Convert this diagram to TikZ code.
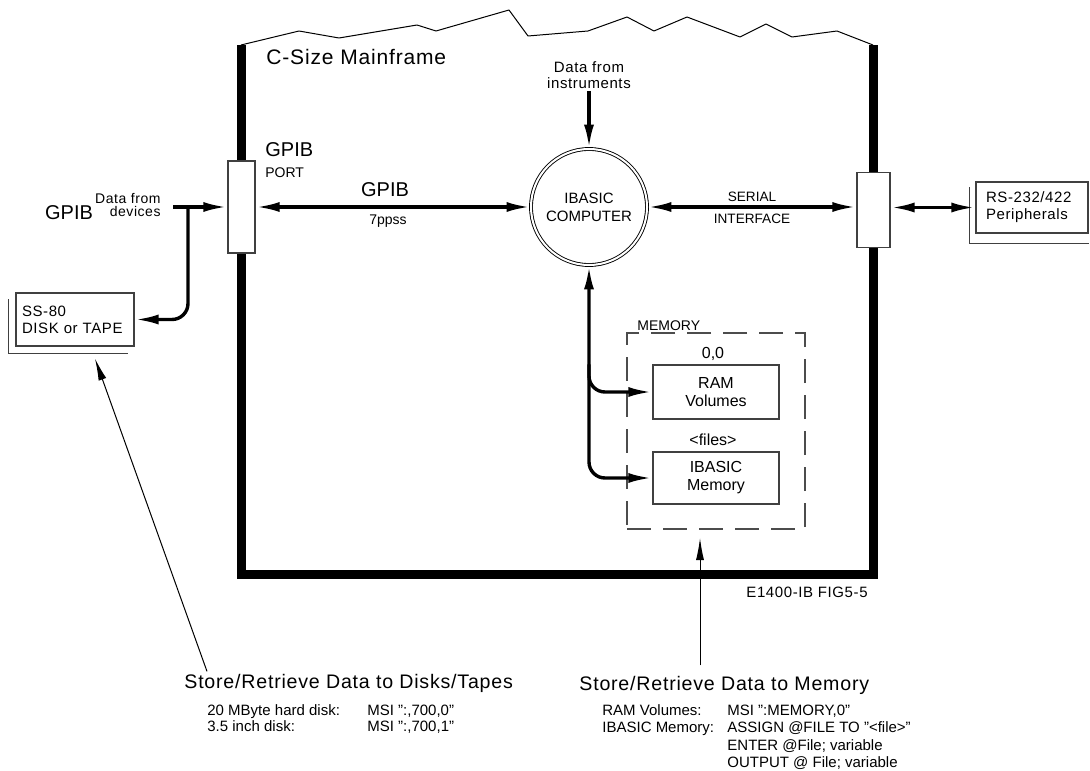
\documentclass[tikz,border=0pt]{standalone}
\usepackage{fontspec}
\setmainfont{Liberation Sans}
\newfontfamily\cadfont[LetterSpace=4]{Liberation Sans}
\usetikzlibrary{positioning, arrows.meta}
\tikzset{
  wall/.style={line width=4.5pt},
  rim/.style={line width=0.5pt, line join=round},
  port/.style={draw=black!75, line width=0.6pt, fill=white, inner sep=0pt},
  device/.style={draw=black!75, line width=0.6pt, fill=white, align=left, font=\cadfont\fontsize{7.5}{8.5}\selectfont, inner xsep=5pt},
  stack/.style={draw=black!75, line width=0.6pt},
  membox/.style={draw=black!75, line width=0.7pt, fill=white, align=center, font=\fontsize{8}{9}\selectfont, minimum width=63pt},
  memframe/.style={draw=black!70, line width=1pt, dash pattern=on 12pt off 6pt, minimum width=89pt, minimum height=98pt},
  computer/.style={circle, draw, double, double distance=1pt, line width=0.45pt, minimum size=58pt, align=center, font=\fontsize{7.5}{9}\selectfont},
  bus/.style={line width=1.7pt, -{Latex[length=12pt,width=5pt]}},
  busboth/.style={line width=1.7pt, {Latex[length=12pt,width=5pt]}-{Latex[length=12pt,width=5pt]}},
  pointer/.style={line width=0.5pt, -{Latex[length=11pt,width=4pt]}},
  cadsmall/.style={font=\cadfont\fontsize{7.5}{8}\selectfont, inner sep=1pt},
  cadtitle/.style={font=\cadfont\fontsize{9.8}{12}\selectfont, inner sep=1pt},
  helv/.style={font=\fontsize{7}{8}\selectfont, inner sep=1pt},
  helvbig/.style={font=\fontsize{10}{12}\selectfont, inner sep=1pt},
  cmdlist/.style={font=\fontsize{7.5}{8.75}\selectfont, inner sep=0pt},
}
\begin{document}
\begin{tikzpicture}[x=0.5pt, y=-0.5pt]
  \useasboundingbox (0,0) rectangle (1090,770);

  % Mainframe outline with torn top edge
  \draw[wall] (241,45) -- (241,574) -- (873,574) -- (873,45);
  \draw[rim] (241,45) -- (299,31) -- (339,38) -- (417,25) -- (436,31) -- (509,10)
    -- (528,36) -- (588,31) -- (627,17) -- (654,31) -- (687,17) -- (740,37)
    -- (766,24) -- (792,37) -- (837,31) -- (873,45);
  \node[cadtitle, font=\cadfont\fontsize{10.5}{12}\selectfont, anchor=base west] (mainframe) at (264,65) {C-Size Mainframe};

  % Ports in the walls
  \node[port, minimum width=13.5pt, minimum height=46pt] (gpibport) at (241.5,207) {};
  \node[port, minimum width=16.5pt, minimum height=37.5pt] (serport) at (873.5,210) {};
  \node[helvbig, anchor=base west] (portname) at (263,157) {GPIB};
  \node[helv, anchor=base west] (portword) at (263,177) {PORT};

  % Computer
  \node[computer] (comp) at (589,207) {IBASIC\\COMPUTER};
  \node[cadsmall, align=center] (instr) at (589,75) {Data from\\instruments};

  % External devices
  \node[device, text width=53pt, inner xsep=3pt, minimum height=26.5pt] (disk) at (75,319.5) {SS-80\\DISK or TAPE};
  \draw[stack] ([shift={(-3.5pt,-3.5pt)}]disk.north west) |- ([shift={(-3.5pt,-3.5pt)}]disk.south east);
  \node[device, text width=46pt, minimum height=25.5pt] (periph) at (1032,207.5) {RS-232/422\\Peripherals};
  \draw[stack] ([shift={(-3pt,-3pt)}]periph.north west) |- ([shift={(0pt,-5pt)}]periph.south east);

  \node[cadsmall, align=right, anchor=east, font=\cadfont\fontsize{7}{6.5}\selectfont] (devtxt) at (163,205) {Data from\\devices};
  \node[helvbig] (gpibtxt) at (69,213) {GPIB};
  \coordinate (devin) at (173,207);
  \coordinate (tap) at (188,207);

  % Memory
  \node[memframe] (memory) at (716,431) {};
  \node[helv, anchor=base west] (memname) at (635,330) {MEMORY};
  \node[membox, minimum height=27pt] (ram) at (716,392) {RAM\\Volumes};
  \node[membox, minimum height=26pt] (ibmem) at (716,478) {IBASIC\\Memory};
  \node[helv, font=\fontsize{8}{9}\selectfont] (volid) at (713,354) {0,0};
  \node[helv, font=\fontsize{8}{9}\selectfont] (files) at (713,440) {<files>};

  % Bus labels
  \node[helvbig] (gpibbus) at (385,190) {GPIB};
  \node[helv, anchor=base] (addr) at (388,224) {7ppss};
  \node[helv, font=\fontsize{6.8}{8}\selectfont] (serial) at (752,197) {SERIAL};
  \node[helv, font=\fontsize{6.8}{8}\selectfont] (iface) at (752,219) {INTERFACE};

  % Connections
  \draw[bus] (devin) -- (gpibport.west);
  \draw[bus, rounded corners=8pt] (tap) |- (disk.east);
  \draw[busboth] (gpibport.east) -- (comp.west);
  \draw[busboth] (comp.east) -- (comp.east -| serport.west);
  \draw[busboth] (serport.east |- periph.west) -- (periph.west);
  \draw[bus] (instr.south) -- (comp.north);
  \draw[busboth, rounded corners=8pt] (comp.south) |- (ibmem.west);
  \draw[bus, rounded corners=8pt] (comp.south |- ram.north) |- (ram.west);

  % Notes at the bottom
  \node[cadtitle, anchor=base west] (disktitle) at (182,688) {Store/Retrieve Data to Disks/Tapes};
  \node[cmdlist, anchor=base west, font=\fontsize{7.5}{8}\selectfont] (diskcmds) at (207,715) {%
    \begin{tabular}[t]{@{}p{80pt}@{}l@{}}
      20 MByte hard disk: & MSI ":,700,0"\\
      3.5 inch disk: & MSI ":,700,1"
    \end{tabular}};
  \node[cadtitle, anchor=base west] (memtitle) at (577,690) {Store/Retrieve Data to Memory};
  \node[cmdlist, anchor=base west] (memcmds) at (602,715) {%
    \begin{tabular}[t]{@{}p{62.5pt}@{}l@{}}
      RAM Volumes: & MSI ":MEMORY,0"\\
      IBASIC Memory: & ASSIGN @FILE TO "<file>"\\
      & ENTER @File; variable\\
      & OUTPUT @ File; variable
    \end{tabular}};
  \node[cadsmall, anchor=base east] (figid) at (870,597) {E1400-IB FIG5-5};

  \coordinate (diskfoot) at ([xshift=12.5pt]disktitle.north west);
  \coordinate (disktip) at ([xshift=10pt,yshift=-6pt]disk.south);
  \draw[pointer] (diskfoot) -- (disktip);
  \coordinate (memtip) at ([xshift=-8pt,yshift=-4pt]memory.south);
  \coordinate (memfoot) at ([yshift=4pt]memtip |- memtitle.north);
  \draw[pointer] (memfoot) -- (memtip);
\end{tikzpicture}
\end{document}
